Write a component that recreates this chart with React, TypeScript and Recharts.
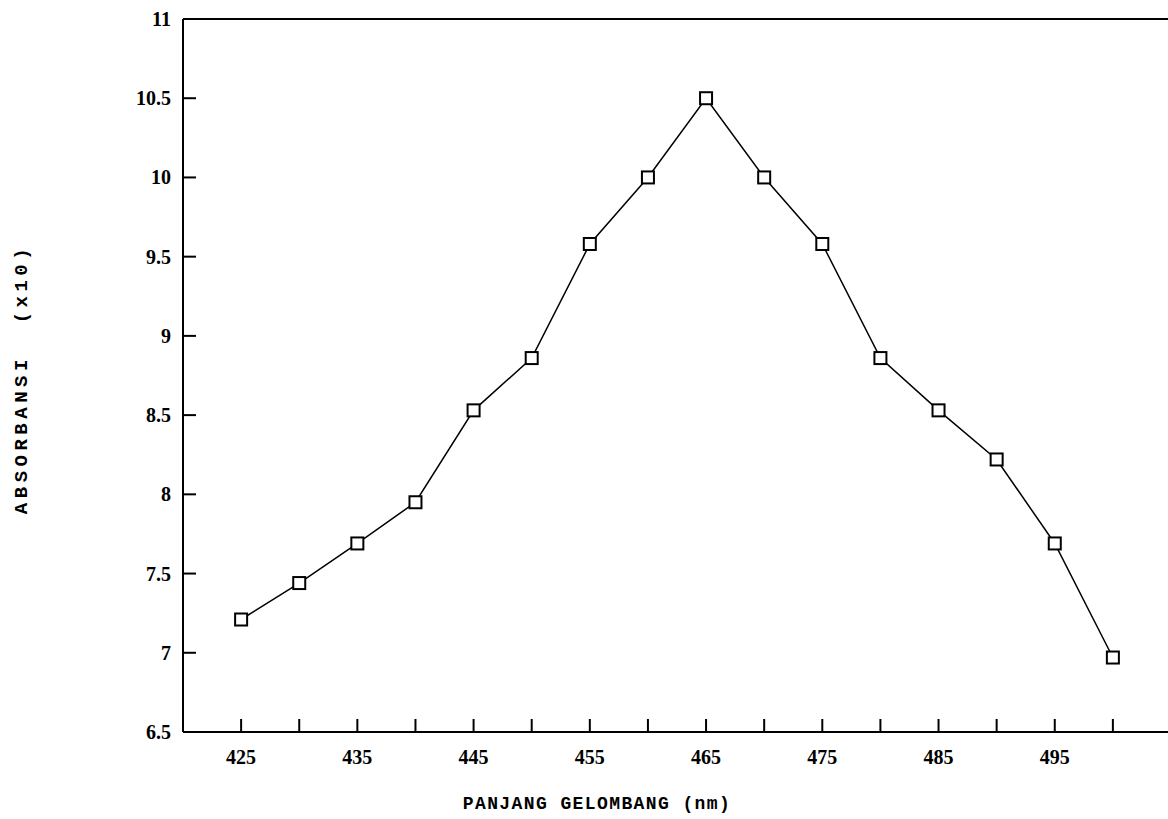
import { LineChart, Line, XAxis, YAxis, ReferenceLine, Label } from 'recharts';

const wavelengths = [425, 430, 435, 440, 445, 450, 455, 460, 465, 470, 475, 480, 485, 490, 495, 500];
const absorbance = [7.21, 7.44, 7.69, 7.95, 8.53, 8.86, 9.58, 10.0, 10.5, 10.0, 9.58, 8.86, 8.53, 8.22, 7.69, 6.97];
const xTicks = [425, 430, 435, 440, 445, 450, 455, 460, 465, 470, 475, 480, 485, 490, 495, 500];
const xLabeled = [425, 435, 445, 455, 465, 475, 485, 495];
const yTicks = [6.5, 7, 7.5, 8, 8.5, 9, 9.5, 10, 10.5, 11];

const data = wavelengths.map((w, i) => ({ w, a: absorbance[i] }));

// the scanned plot runs a few px past the right edge of the page, so draw a bit wider and clip
const W = 1171;
const H = 819;
const Y_AXIS_W = 183;
const X_AXIS_H = 87;
const PLOT_BOTTOM = H - X_AXIS_H;

const numFont = '"Liberation Serif", serif';
const titleFont = '"Liberation Mono", monospace';

// ticks point inward, like the old plotter output
const XTick = (props: any) => {
  const { payload } = props;
  const x = payload.coordinate;
  return (
    <g>
      <line x1={x} y1={PLOT_BOTTOM} x2={x} y2={PLOT_BOTTOM - 13} stroke="#000" strokeWidth={2} />
      {xLabeled.includes(payload.value) && (
        <text x={x} y={PLOT_BOTTOM + 32} textAnchor="middle" fontFamily={numFont} fontWeight="bold" fontSize={20} fill="#000">
          {payload.value}
        </text>
      )}
    </g>
  );
};

const YTick = (props: any) => {
  const { payload } = props;
  const y = payload.coordinate;
  const edge = payload.value === 6.5 || payload.value === 11;
  return (
    <g>
      {!edge && <line x1={Y_AXIS_W} y1={y} x2={Y_AXIS_W + 13} y2={y} stroke="#000" strokeWidth={2} />}
      <text x={Y_AXIS_W - 12} y={y + 7} textAnchor="end" fontFamily={numFont} fontWeight="bold" fontSize={20} fill="#000">
        {payload.value}
      </text>
    </g>
  );
};

const Square = (props: any) => {
  const { cx, cy, index } = props;
  return (
    <rect key={`sq-${index}`} x={cx - 6} y={cy - 6} width={12} height={12} fill="#fff" stroke="#000" strokeWidth={2} />
  );
};

export default function App() {
  return (
    <div style={{ position: 'absolute', left: 0, top: 0, width: 1168, height: H, overflow: 'hidden', background: '#fff' }}>
      <LineChart width={W} height={H} data={data} margin={{ top: 19, right: 0, bottom: 0, left: 0 }}>
        <XAxis
          dataKey="w"
          type="number"
          domain={[420, 505]}
          ticks={xTicks}
          interval={0}
          allowDataOverflow
          height={X_AXIS_H}
          tickLine={false}
          axisLine={{ stroke: '#000', strokeWidth: 2 }}
          tick={<XTick />}
        >
          <Label
            content={() => (
              <text x={597} y={809} textAnchor="middle" fontFamily={titleFont} fontWeight="bold" fontSize={18} letterSpacing={1.4} fill="#000">
                PANJANG GELOMBANG (nm)
              </text>
            )}
          />
        </XAxis>
        <YAxis
          type="number"
          domain={[6.5, 11]}
          ticks={yTicks}
          interval={0}
          width={Y_AXIS_W}
          tickLine={false}
          axisLine={{ stroke: '#000', strokeWidth: 2 }}
          tick={<YTick />}
        >
          <Label
            content={() => (
              <text
                x={27}
                y={379}
                transform="rotate(-90 27 379)"
                textAnchor="middle"
                fontFamily={titleFont}
                fontWeight="bold"
                fontSize={19}
                letterSpacing={4.5}
                fill="#000"
                style={{ whiteSpace: 'pre' }}
              >
                {'ABSORBANSI  (x10)'}
              </text>
            )}
          />
        </YAxis>
        <ReferenceLine y={11} stroke="#000" strokeWidth={2} />
        <Line
          type="linear"
          dataKey="a"
          stroke="#000"
          strokeWidth={1.5}
          dot={<Square />}
          activeDot={false}
          isAnimationActive={false}
        />
      </LineChart>
    </div>
  );
}
